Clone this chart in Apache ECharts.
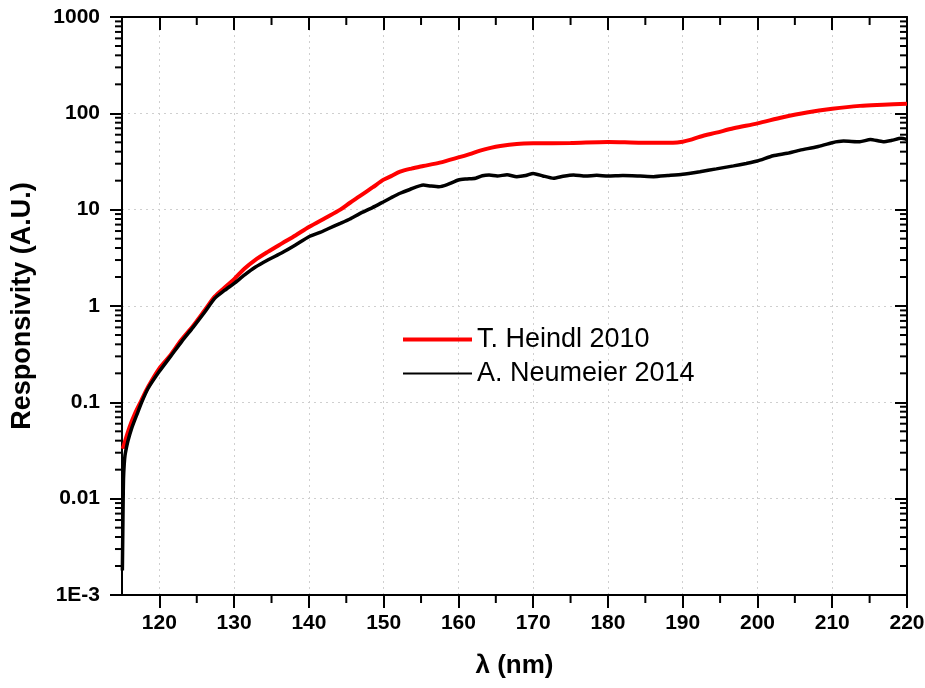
<!DOCTYPE html>
<html>
<head>
<meta charset="utf-8">
<script src="https://cdn.jsdelivr.net/npm/echarts@6/dist/echarts.min.js"></script>
<style>
html,body{margin:0;padding:0;background:#fff;}
#chart{width:925px;height:688px;}
</style>
</head>
<body>
<div id="chart"></div>
<script>
// ---- Data ----
const heindlX = [115.1, 116, 116.75, 117.6, 118.5, 120, 121.5, 122.9, 124.5, 126.1, 127.4, 128.7, 130, 131.4, 132.8, 134.5, 136.4, 138.2, 140, 142.2, 144.2, 145.5, 146.8, 148.5, 150, 151, 152.2, 153.7, 155.3, 157.5, 160, 161.5, 162.9, 164.3, 165.6, 167.8, 170, 175, 180, 184.5, 188.7, 190, 191, 192.3, 194.5, 196.8, 200, 203.4, 206.6, 210, 213.7, 216.8, 220];
const heindlY = [0.033, 0.055, 0.077, 0.105, 0.145, 0.225, 0.31, 0.44, 0.62, 0.91, 1.25, 1.55, 1.9, 2.45, 3.0, 3.65, 4.47, 5.4, 6.6, 8.2, 10.0, 11.8, 13.8, 17, 20.5, 22.3, 24.8, 26.7, 28.4, 30.8, 34.9, 37.8, 41, 43.8, 45.8, 48, 48.8, 49.2, 50.5, 49.5, 49.6, 50.8, 53, 57.2, 63, 69.9, 78.7, 91, 102, 111.5, 119.5, 122.7, 125.6];

const neumeierX = [115.05, 115.1, 115.15, 115.2, 115.3, 115.4, 115.6, 115.8, 116.3, 117, 117.6, 118.5, 120, 121.5, 123, 124.5, 126, 127.4, 128.7, 130, 131.4, 132.8, 134.5, 136.4, 138.2, 140, 141.5, 142.5, 144.2, 145.5, 146.8, 148.5, 150, 151, 152.2, 153.5, 155.3, 156.3, 157.4, 158.5, 160, 161, 162.3, 163.2, 164.1, 165.2, 166.5, 167.8, 169, 170, 171.3, 172.7, 174, 175.4, 177, 178.5, 180, 182, 184.3, 186.1, 188, 190, 192.3, 194.5, 196.8, 198.5, 200, 202.1, 204, 205.7, 208, 210, 211.5, 213.7, 215.1, 216.8, 218, 219.2, 220];
const neumeierY = [0.0018, 0.004, 0.009, 0.016, 0.023, 0.028, 0.034, 0.04, 0.054, 0.075, 0.099, 0.14, 0.21, 0.3, 0.43, 0.6, 0.85, 1.2, 1.45, 1.72, 2.1, 2.52, 3.0, 3.57, 4.3, 5.24, 5.8, 6.3, 7.2, 8.0, 9.1, 10.5, 12.1, 13.3, 14.8, 16.2, 18.0, 17.6, 17.3, 18.2, 20.3, 20.8, 21.2, 22.5, 22.9, 22.4, 23.0, 22.0, 22.6, 23.8, 22.4, 21.2, 22.2, 22.9, 22.3, 22.8, 22.3, 22.6, 22.3, 22.0, 22.6, 23.3, 24.8, 26.5, 28.5, 30.2, 32, 36.3, 38.5, 41.5, 45, 49.6, 51.5, 50.8, 53.5, 50.8, 52.5, 55, 53.5];

const seriesNames = ['T. Heindl 2010', 'A. Neumeier 2014'];
const xRange = [115, 220];
const xTickValues = [120, 130, 140, 150, 160, 170, 180, 190, 200, 210, 220];
const xMinorTickValues = [125, 135, 145, 155, 165, 175, 185, 195, 205, 215];
const yRange = [0.001, 1000];
const yTickValues = [0.001, 0.01, 0.1, 1, 10, 100, 1000];
const yTickLabels = ['1E-3', '0.01', '0.1', '1', '10', '100', '1000'];
const yMinorTickValues = [];
for (let e = -3; e <= 2; e++) {
  for (let k = 2; k <= 9; k++) yMinorTickValues.push(+(k * Math.pow(10, e)).toPrecision(3));
}

const FONT = '"Liberation Sans", Arial, sans-serif';

function zip(xs, ys) { return xs.map((x, i) => [x, ys[i]]); }

const chart = echarts.init(document.getElementById('chart'), null, {renderer: 'canvas'});

const axisLine = {show: true, onZero: false, lineStyle: {color: '#000', width: 2}};
const splitLine = {show: true, lineStyle: {color: '#cfcfcf', width: 1, type: [2, 4]}};

const option = {
  animation: false,
  backgroundColor: '#fff',
  grid: {left: 122, right: 18, top: 17, bottom: 93, containLabel: false, outerBoundsMode: 'none'},
  legend: {
    orient: 'vertical',
    left: 398,
    top: 321,
    itemWidth: 69,
    itemHeight: 14,
    itemGap: 7,
    textStyle: {fontFamily: FONT, fontSize: 27, color: '#000'},
    data: [
      {name: seriesNames[0], icon: 'path://M0,0H69V4H0Z', itemStyle: {color: '#ff0000'}},
      {name: seriesNames[1], icon: 'path://M0,0H69V2H0Z', itemStyle: {color: '#000'}}
    ]
  },
  xAxis: [
    {
      type: 'value', position: 'bottom', min: xRange[0], max: xRange[1],
      axisLine: axisLine,
      axisTick: {show: true, inside: false, length: 13, lineStyle: {color: '#000', width: 2}, customValues: xTickValues},
      axisLabel: {show: true, margin: 18, fontFamily: FONT, fontWeight: 'bold', fontSize: 21, color: '#000', customValues: xTickValues},
      splitLine: splitLine,
      name: 'λ (nm)', nameLocation: 'middle', nameGap: 58,
      nameTextStyle: {fontFamily: FONT, fontWeight: 'bold', fontSize: 26, color: '#000'}
    },
    {
      type: 'value', position: 'top', min: xRange[0], max: xRange[1],
      axisLine: axisLine,
      axisTick: {show: true, inside: true, length: 13, lineStyle: {color: '#000', width: 2}, customValues: xTickValues},
      axisLabel: {show: false},
      splitLine: {show: false}
    }
  ],
  yAxis: [
    {
      type: 'log', logBase: 10, position: 'left', min: yRange[0], max: yRange[1],
      axisLine: axisLine,
      axisTick: {show: true, inside: false, length: 12, lineStyle: {color: '#000', width: 2}},
      axisLabel: {
        show: true, margin: 22, fontFamily: FONT, fontWeight: 'bold', fontSize: 21, color: '#000',
        formatter: function (v) {
          let best = 0;
          for (let i = 0; i < yTickValues.length; i++) {
            if (Math.abs(Math.log10(v) - Math.log10(yTickValues[i])) < Math.abs(Math.log10(v) - Math.log10(yTickValues[best]))) best = i;
          }
          return yTickLabels[best];
        }
      },
      splitLine: splitLine,
      name: 'Responsivity (A.U.)', nameLocation: 'middle', nameGap: 86, nameRotate: 90,
      nameTextStyle: {fontFamily: FONT, fontWeight: 'bold', fontSize: 27, color: '#000'}
    },
    {
      type: 'log', logBase: 10, position: 'right', min: yRange[0], max: yRange[1],
      axisLine: axisLine,
      axisTick: {show: true, inside: true, length: 12, lineStyle: {color: '#000', width: 2}},
      axisLabel: {show: false},
      splitLine: {show: false}
    }
  ],
  series: [
    {
      name: seriesNames[0], type: 'line', xAxisIndex: 0, yAxisIndex: 0,
      data: zip(heindlX, heindlY), showSymbol: false, symbol: 'none', smooth: 0.3,
      lineStyle: {color: '#ff0000', width: 4}, itemStyle: {color: '#ff0000'}, z: 3, clip: true
    },
    {
      name: seriesNames[1], type: 'line', xAxisIndex: 0, yAxisIndex: 0,
      data: zip(neumeierX, neumeierY), showSymbol: false, symbol: 'none', smooth: 0.2,
      lineStyle: {color: '#000', width: 3.5}, itemStyle: {color: '#000'}, z: 4, clip: true
    },
    {
      name: 'yMinor', type: 'custom', xAxisIndex: 0, yAxisIndex: 0, silent: true, clip: false, z: 5,
      data: yMinorTickValues.map(v => [xRange[0], v]),
      renderItem: function (params, api) {
        const l = api.coord([xRange[0], api.value(1)]);
        const r = api.coord([xRange[1], api.value(1)]);
        const st = {stroke: '#000', lineWidth: 2};
        return {type: 'group', children: [
          {type: 'line', shape: {x1: l[0] - 7, y1: l[1], x2: l[0], y2: l[1]}, style: st},
          {type: 'line', shape: {x1: r[0] - 7, y1: r[1], x2: r[0], y2: r[1]}, style: st}
        ]};
      }
    },
    {
      name: 'xMinor', type: 'custom', xAxisIndex: 0, yAxisIndex: 0, silent: true, clip: false, z: 5,
      data: xMinorTickValues.map(v => [v, yRange[0]]),
      renderItem: function (params, api) {
        const b = api.coord([api.value(0), yRange[0]]);
        const t = api.coord([api.value(0), yRange[1]]);
        const st = {stroke: '#000', lineWidth: 2};
        return {type: 'group', children: [
          {type: 'line', shape: {x1: b[0], y1: b[1], x2: b[0], y2: b[1] + 8}, style: st},
          {type: 'line', shape: {x1: t[0], y1: t[1], x2: t[0], y2: t[1] + 8}, style: st}
        ]};
      }
    }
  ]
};
chart.setOption(option);
</script>
</body>
</html>
